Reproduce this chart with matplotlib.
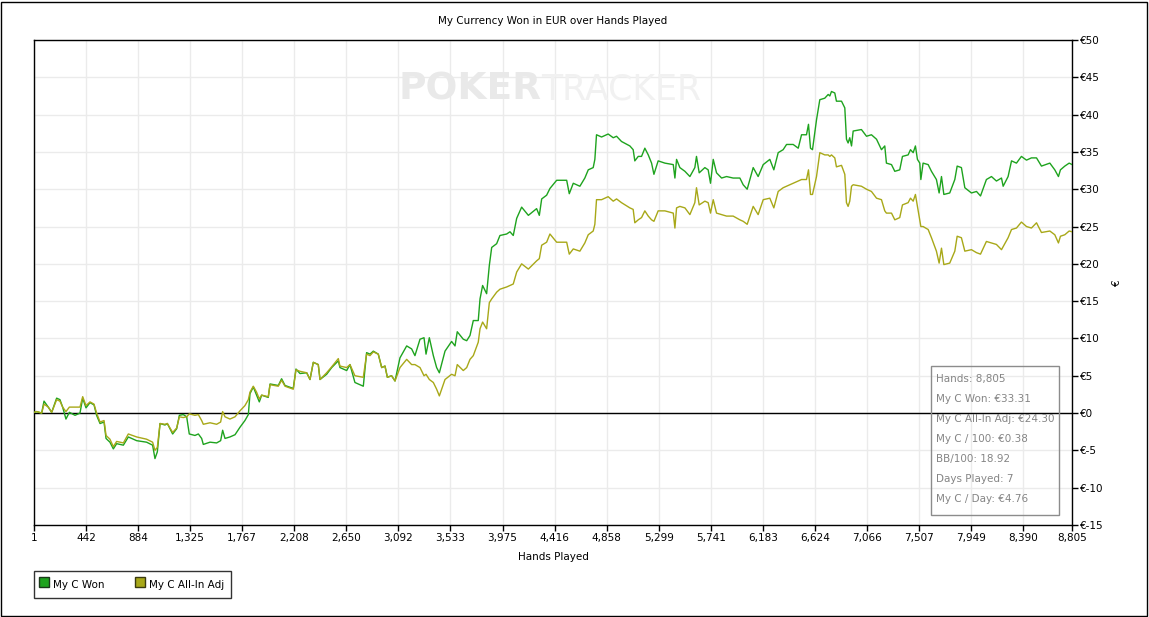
import matplotlib
matplotlib.use('Agg')
import matplotlib.pyplot as plt
from matplotlib.patches import Rectangle
from matplotlib.lines import Line2D

plt.rcParams['font.family'] = ['DejaVu Sans']
plt.rcParams['axes.unicode_minus'] = False

# hands played (x) and cumulative winnings in EUR
hands = [1, 24, 66, 86, 122, 151, 193, 221, 244, 272, 301, 349, 391, 414, 442, 476, 510, 532, 561, 595,
         612, 645, 674, 702, 759, 801, 872, 956, 1007, 1027, 1047, 1070, 1112, 1132, 1177, 1211, 1234, 1267, 1296, 1318,
         1366, 1395, 1423, 1437, 1494, 1550, 1584, 1601, 1621, 1663, 1706, 1748, 1790, 1819, 1833, 1861, 1889, 1912, 1932, 1988,
         2003, 2073, 2101, 2130, 2200, 2223,
         2257, 2314, 2342, 2370, 2412, 2427, 2483, 2526, 2582, 2596, 2653, 2681, 2723, 2794, 2822, 2851, 2879, 2921, 2950, 2978,
         2998, 3034, 3063, 3105, 3162, 3204, 3232, 3275, 3309, 3326, 3354, 3388, 3416, 3439, 3487, 3543, 3572, 3591, 3642, 3671,
         3699, 3727, 3769, 3784, 3806, 3840, 3863, 3883, 3925, 3953, 4010, 4038, 4066, 4095, 4137, 4194, 4264, 4287, 4307, 4349,
         4377, 4434, 4519, 4541, 4575,
         4631, 4673, 4702, 4744, 4758, 4772, 4815, 4871, 4914, 4942, 4984, 5055, 5083, 5097, 5126, 5154, 5182, 5211, 5239, 5259,
         5295, 5352, 5423, 5437, 5451, 5479, 5522, 5564, 5606, 5620, 5643, 5691, 5719, 5739, 5762, 5790, 5833, 5875, 5931, 5988,
         6016, 6050, 6101, 6143, 6186, 6242, 6276, 6313, 6355, 6384, 6440, 6483, 6511, 6553, 6570, 6587, 6604, 6638,
         6666, 6708, 6737, 6751, 6765, 6793, 6807, 6850, 6878, 6892, 6906, 6920, 6935, 6949, 7019, 7062, 7104, 7147, 7189, 7217,
         7231, 7274, 7302, 7344, 7367, 7415, 7435, 7458, 7477, 7494, 7514, 7523, 7542, 7585, 7613, 7655, 7678, 7698, 7718, 7768,
         7811, 7831, 7867, 7896, 7952, 7995, 8029, 8079, 8122, 8164, 8207, 8221, 8263, 8292, 8334, 8376, 8419, 8461, 8504, 8546,
         8617, 8659, 8690, 8707, 8744, 8781, 8805]

won = [0.1, 0.2, 0, 1.6, 0.8, 0.1, 2.0, 1.8, 0.8, -0.8, 0.1, -0.3, 0, 2.0, 0.7, 1.4, 1.1, -0.3, -1.4, -1.2,
       -3.4, -3.9, -4.8, -4.1, -4.3, -3.2, -3.7, -3.9, -4.3, -6.1, -5.2, -1.4, -1.6, -1.4, -2.8, -2.1, -0.3, -0.2, -0.5, -2.8,
       -3.0, -2.8, -3.4, -4.2, -3.9, -4.0, -3.7, -2.3, -3.4, -3.2, -2.9, -1.9, -1.0, -0.2, 2.6, 3.5, 2.4, 1.5, 2.4, 2.1,
       3.9, 3.7, 4.6, 3.7, 3.3, 5.9,
       5.3, 5.4, 4.5, 6.8, 6.5, 4.5, 5.2, 6.1, 7.0, 6.1, 5.7, 6.5, 4.1, 3.6, 8.1, 7.9, 8.3, 7.9, 6.1, 6.3,
       4.8, 5.0, 4.3, 7.4, 9.0, 8.6, 7.7, 9.9, 10.1, 7.9, 10.1, 7.7, 6.1, 5.4, 8.3, 9.6, 9.0, 10.9, 9.9, 9.7,
       10.4, 12.4, 12.4, 15.3, 17.1, 16.0, 19.8, 22.2, 22.7, 23.8, 24.0, 24.3, 23.8, 26.1, 27.6, 26.5, 27.4, 26.5, 28.7, 29.2,
       30.1, 31.2, 31.2, 29.4, 30.8,
       30.4, 31.5, 32.6, 32.9, 34.0, 37.3, 37.0, 37.4, 36.9, 37.1, 36.4, 35.8, 35.3, 33.8, 34.4, 34.4, 35.5, 34.6, 33.5, 32.0,
       33.8, 33.5, 33.3, 31.5, 34.0, 32.9, 32.4, 31.7, 32.9, 34.4, 32.2, 32.9, 32.6, 30.8, 34.0, 32.2, 31.5, 31.7, 31.5, 31.5,
       30.6, 30.0, 32.9, 31.7, 33.3, 34.0, 32.6, 34.9, 35.3, 36.0, 36.0, 35.5, 37.3, 37.3, 38.7, 35.5, 35.3, 39.3,
       42.0, 42.2, 42.7, 42.5, 43.1, 42.9, 41.8, 41.8, 40.9, 36.7, 36.2, 36.9, 35.8, 37.8, 38.0, 37.1, 37.3, 36.7, 35.3, 35.8,
       33.5, 33.3, 32.4, 32.6, 34.4, 34.6, 35.3, 34.9, 35.8, 34.0, 33.5, 31.3, 33.5, 33.3, 32.4, 31.3, 29.5, 31.7, 29.3, 29.5,
       31.3, 33.1, 32.9, 30.2, 29.5, 29.7, 29.1, 31.3, 31.7, 31.1, 31.5, 30.4, 31.7, 33.8, 33.5, 34.4, 33.9, 34.2, 34.2, 33.1,
       33.5, 32.6, 31.7, 32.6, 33.1, 33.5, 33.31]

allin_adj = [0.1, 0.2, 0, 1.2, 0.8, 0.1, 1.8, 1.6, 0.8, 0.2, 0.8, 0.8, 0.8, 2.2, 1.0, 1.5, 1.2, 0, -1.2, -1.0,
             -3.0, -3.5, -4.5, -3.8, -4.0, -2.8, -3.2, -3.5, -3.9, -5.0, -4.6, -1.4, -1.5, -1.4, -2.6, -2.0, -0.5, -0.6, -0.5, -0.1,
             -0.3, -0.2, -1.0, -1.5, -1.3, -1.5, -1.2, 0.2, -0.5, -0.8, -0.5, 0.3, 1.0, 1.8, 2.8, 3.6, 2.8, 1.9, 2.4, 2.2,
             3.8, 3.6, 4.4, 3.6, 3.2, 5.8,
             5.6, 5.4, 4.5, 6.8, 6.5, 4.5, 5.4, 6.2, 7.3, 6.3, 6.1, 6.5, 5.0, 4.8, 7.9, 7.7, 8.2, 7.9, 6.1, 6.3,
             4.8, 5.0, 4.3, 6.1, 7.2, 6.5, 6.5, 6.1, 5.0, 5.2, 4.5, 4.1, 3.2, 2.3, 4.5, 5.2, 5.0, 6.5, 5.7, 6.1,
             7.2, 7.7, 9.5, 11.3, 12.2, 11.3, 14.8, 15.3, 16.2, 16.6, 16.9, 17.1, 17.3, 18.9, 20.0, 19.3, 20.4, 20.7, 22.5, 22.9,
             24.0, 22.9, 22.9, 21.3, 22.0,
             21.7, 22.8, 23.9, 24.4, 25.3, 28.6, 28.6, 29.0, 28.4, 28.7, 28.2, 27.5, 27.3, 25.5, 25.9, 26.2, 27.1, 26.4, 25.9, 25.7,
             27.1, 27.1, 26.8, 24.8, 27.5, 27.7, 27.5, 26.6, 28.2, 30.2, 27.9, 28.4, 28.2, 26.8, 28.6, 26.8, 26.6, 26.4, 26.4, 25.9,
             25.7, 25.3, 27.7, 26.6, 28.6, 28.8, 27.5, 29.7, 30.2, 30.4, 30.8, 31.1, 31.3, 31.3, 32.6, 29.3, 29.3, 31.7,
             34.9, 34.6, 34.6, 34.4, 34.6, 34.2, 33.0, 33.2, 32.0, 28.2, 27.7, 28.4, 30.4, 30.6, 30.4, 30.0, 29.7, 28.8, 28.6, 27.1,
             26.8, 26.8, 25.9, 26.2, 27.9, 28.2, 28.8, 28.4, 29.3, 27.7, 25.9, 25.0, 25.0, 24.6, 23.5, 21.7, 20.1, 22.1, 19.9, 20.1,
             21.7, 23.7, 23.5, 21.7, 21.9, 21.5, 21.3, 23.0, 22.8, 22.6, 21.9, 22.3, 23.5, 24.6, 24.8, 25.6, 25.0, 24.8, 25.5, 24.2,
             24.4, 23.9, 22.8, 23.7, 23.9, 24.4, 24.30]

x_ticks = [1, 442, 884, 1325, 1767, 2208, 2650, 3092, 3533, 3975, 4416, 4858, 5299,
           5741, 6183, 6624, 7066, 7507, 7949, 8390, 8805]
y_ticks = list(range(-15, 55, 5))

stats = ["Hands: 8,805", "My C Won: €33.31", "My C All-In Adj: €24.30", "My C / 100: €0.38",
         "BB/100: 18.92", "Days Played: 7", "My C / Day: €4.76"]

green = '#1ea31e'
olive = '#a8a818'

W, H = 1149, 617
fig = plt.figure(figsize=(W / 100, H / 100), dpi=100)
fig.patch.set_facecolor('white')
ax = fig.add_axes([34 / W, 1 - 525 / H, (1072 - 34) / W, (525 - 40) / H])

ax.plot(hands, won, color=green, lw=1.0, zorder=3)
ax.plot(hands, allin_adj, color=olive, lw=1.0, zorder=3)
ax.axhline(0, color='black', lw=1.0, zorder=2)

ax.set_xlim(1, 8805)
ax.set_ylim(-15, 50)
ax.set_xticks(x_ticks)
ax.set_xticklabels(["{:,}".format(v) for v in x_ticks])
ax.set_yticks(y_ticks)
ax.set_yticklabels(["€%d" % v for v in y_ticks])
ax.yaxis.tick_right()
ax.yaxis.set_label_position('right')
ax.grid(True, color='#ebebeb', lw=1.0)
ax.set_axisbelow(True)
ax.tick_params(direction='out', length=4, width=1, labelsize=7.5, pad=2, colors='black')
for sp in ax.spines.values():
    sp.set_color('black')
    sp.set_linewidth(1.0)

ax.set_xlabel("Hands Played", fontsize=7.5, labelpad=6)
ax.set_ylabel("€", fontsize=7.5, labelpad=6)

fig.text(553 / W, 1 - 21 / H, "My Currency Won in EUR over Hands Played",
         ha='center', va='center', fontsize=7.5)

# faint watermark
fig.text(541 / W, 1 - 90 / H, "POKER", ha='right', va='center', fontsize=27,
         fontweight='bold', color='#e9e9e9', zorder=0)
fig.text(541 / W, 1 - 90 / H, "TRACKER", ha='left', va='center', fontsize=25,
         color='#f1f1f1', zorder=0)

# stats box
fig.patches.append(Rectangle((931 / W, 1 - 515 / H), (1059 - 931) / W, (515 - 366) / H,
                             transform=fig.transFigure, fill=False, edgecolor='#8c8c8c', lw=1.0, zorder=5))
for i, s in enumerate(stats):
    fig.text(936 / W, 1 - (379 + 20 * i) / H, s, ha='left', va='center',
             fontsize=7.5, color='#858585', zorder=6)

# legend
handles = [Line2D([], [], ls='none', marker='s', markersize=7, markerfacecolor=green, markeredgecolor='#1a3a1a'),
           Line2D([], [], ls='none', marker='s', markersize=7, markerfacecolor=olive, markeredgecolor='#3a3a10')]
leg = fig.legend(handles, ["My C Won", "My C All-In Adj"], loc='lower left',
                 bbox_to_anchor=(34 / W, 1 - 598 / H), ncol=2, fontsize=7.5, frameon=True,
                 fancybox=False, handlelength=0.8, handleheight=1.8, handletextpad=0.45,
                 columnspacing=3.0, borderpad=0.6, borderaxespad=0)
leg.get_frame().set_edgecolor('black')
leg.get_frame().set_linewidth(1.0)

fig.patches.append(Rectangle((1 / W, 1 / H), (W - 3) / W, (H - 3) / H, transform=fig.transFigure,
                             fill=False, edgecolor='black', lw=1.0))

plt.savefig("out.png", dpi=100)
